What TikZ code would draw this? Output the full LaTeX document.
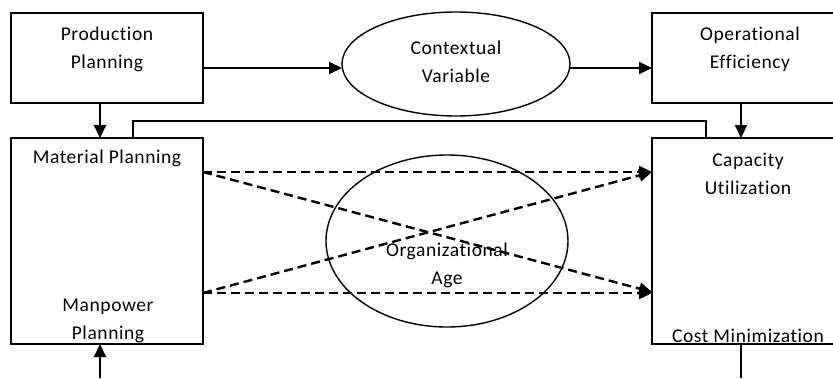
\documentclass[tikz,border=0pt]{standalone}
\usepackage{fontspec}
\setmainfont{Carlito}[LetterSpace=3,RawFeature=-liga]
\usetikzlibrary{arrows.meta}
\begin{document}
\begin{tikzpicture}[x=1pt,y=-1pt,
  box/.style={draw,line width=1.4pt,inner sep=0pt},
  lbl/.style={font=\fontsize{19.5}{22}\selectfont,align=center,inner sep=0pt},
  solidarrow/.style={line width=2.2pt,-{Triangle[length=13pt,width=12pt]}},
  dasharrow/.style={line width=2.4pt,dash pattern=on 9pt off 5pt,-{Triangle[length=13pt,width=12pt]}},
  plainline/.style={line width=1.6pt}]
\useasboundingbox (0,0) rectangle (833,378);
\clip (0,0) rectangle (833,378);

% boxes
\draw[box] (11,13) rectangle (203,103);
\node[lbl] (pp) at (107,49) {Production\\[6pt]Planning};
\coordinate (ppR) at (203,68);
\coordinate (ppB) at (100,103);

\draw[box] (11,138) rectangle (203,344);
\node[lbl] (mp) at (107,158) {Material Planning};
\node[lbl] (mn) at (108,321) {Manpower\\[6pt]Planning};
\coordinate (mpT) at (100,138);
\coordinate (mpTc) at (133,138);
\coordinate (mpR) at (203,172);
\coordinate (mnR) at (203,293);
\coordinate (mpB) at (100,344);
\coordinate (mpIn) at (100,378);

\draw[box] (652,13) rectangle (848,103);
\node[lbl] (oe) at (750,49) {Operational\\[6pt]Efficiency};
\coordinate (oeL) at (652,68);
\coordinate (oeB) at (741,103);

\draw[box] (652,138) rectangle (848,344);
\node[lbl] (cu) at (748,174) {Capacity\\[6pt]Utilization};
\node[lbl] (cm) at (748,336) {Cost Minimization};
\coordinate (cuT) at (741,138);
\coordinate (cuTc) at (706,138);
\coordinate (cuL1) at (652,172);
\coordinate (cuL2) at (652,292);
\coordinate (cuB) at (741,344);
\coordinate (cuOut) at (741,378);

% ovals
\draw[line width=1.4pt] (456,64) ellipse [x radius=114, y radius=52];
\node[lbl] (cv) at (456,62) {Contextual\\[6pt]Variable};
\coordinate (cvL) at (342,68);
\coordinate (cvR) at (570,68);

\draw[line width=1.4pt] (447,241) ellipse [x radius=121, y radius=86];
\node[lbl] (oa) at (447,265) {Organizational\\[6pt]Age};

% solid connectors
\draw[solidarrow] (ppR) -- (cvL);
\draw[solidarrow] (cvR) -- (oeL);
\draw[solidarrow] (ppB) -- (mpT);
\draw[solidarrow] (oeB) -- (cuT);
\draw[solidarrow] (mpIn) -- (mpB);
\draw[plainline] (cuB) -- (cuOut);
\draw[plainline] (mpTc) -- (133,121) -- (706,121) -- (cuTc);

% dashed connectors
\draw[dasharrow] (mpR) -- (cuL1);
\draw[dasharrow] (mpR) -- (cuL2);
\draw[dasharrow] (mnR) -- (cuL1);
\draw[dasharrow] (mnR) -- (652,293);
\end{tikzpicture}
\end{document}
